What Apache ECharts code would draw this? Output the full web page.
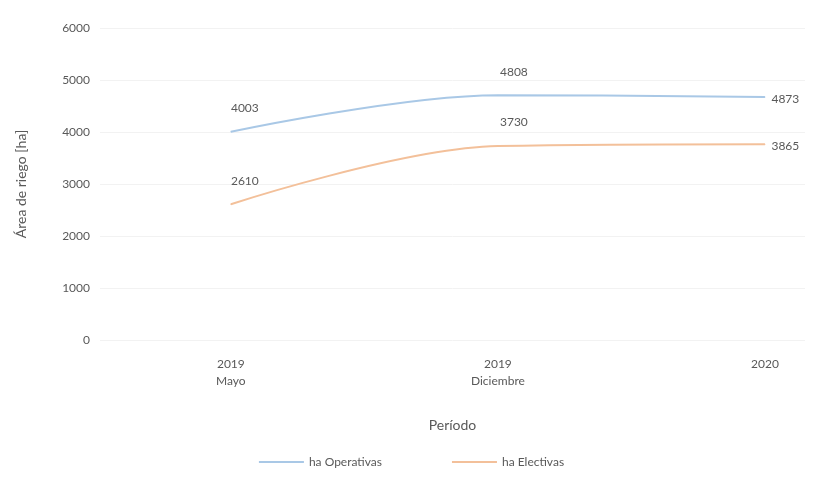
<!DOCTYPE html>
<html>
<head>
<meta charset="utf-8">
<script src="https://cdn.jsdelivr.net/npm/echarts@6/dist/echarts.min.js"></script>
<style>
  html, body { margin: 0; padding: 0; background: #fff; }
  #chart { width: 823px; height: 477px; }
</style>
</head>
<body>
<div id="chart"></div>
<script>
// periodos (eje x) y superficies en ha
const periodos = ['2019\nMayo', '2019\nDiciembre', '2020']
const haOperativas = [4003, 4708, 4673]
const haElectivas = [2610, 3730, 3765]
const etiquetaOperativas = ['4003', '4808', '4873']
const etiquetaElectivas = ['2610', '3730', '3865']
const yTicks = [0, 1000, 2000, 3000, 4000, 5000, 6000]

const chart = echarts.init(document.getElementById('chart'))

const font = 'Lato, "Open Sans", sans-serif'
const gris = '#595959'

// posicion de la etiqueta: arriba, salvo el ultimo punto a la derecha
const pos = i => (i === periodos.length - 1 ? 'right' : 'top')

const makeSeries = (name, values, labels, color) => ({
  name: name,
  type: 'line',
  smooth: 0.35,
  symbol: 'circle',
  symbolSize: 1,
  showSymbol: true,
  lineStyle: { width: 2, color: color },
  itemStyle: { color: color },
  data: values.map((v, i) => ({
    value: [i, v],
    label: {
      show: true,
      position: pos(i),
      distance: i === periodos.length - 1 ? 6 : 17,
      offset: i === 0 ? [14, 0] : (i === 1 ? [16, 0] : [0, 2]),
      formatter: labels[i],
      color: gris,
      fontSize: 12,
      fontFamily: font
    }
  }))
})

const option = {
  animation: false,
  grid: { left: 100, right: 18, top: 28, bottom: 137 },
  legend: {
    bottom: 4,
    left: 'center',
    itemGap: 70,
    itemWidth: 45,
    itemHeight: 2,
    icon: 'rect',
    textStyle: { color: gris, fontSize: 12, fontFamily: font },
    data: ['ha Operativas', 'ha Electivas']
  },
  xAxis: {
    type: 'value',
    min: -0.49,
    max: 2.15,
    name: 'Período',
    nameLocation: 'middle',
    nameGap: 78,
    nameTextStyle: { color: gris, fontSize: 14, fontFamily: font },
    axisLine: { show: false },
    axisTick: { show: false },
    splitLine: { show: false },
    axisLabel: {
      customValues: [0, 1, 2],
      formatter: v => periodos[Math.round(v)],
      color: gris,
      fontSize: 12,
      lineHeight: 17,
      margin: 16,
      fontFamily: font
    }
  },
  yAxis: {
    type: 'value',
    min: 0,
    max: 6000,
    interval: 1000,
    name: 'Área de riego [ha]',
    nameLocation: 'middle',
    nameGap: 72,
    nameTextStyle: { color: gris, fontSize: 14, fontFamily: font },
    axisLine: { show: false },
    axisTick: { show: false },
    splitLine: { lineStyle: { color: '#f2f2f2', width: 1 } },
    axisLabel: {
      formatter: v => (yTicks.indexOf(v) >= 0 ? String(v) : ''),
      color: gris,
      fontSize: 12,
      margin: 10,
      fontFamily: font
    }
  },
  series: [
    makeSeries('ha Operativas', haOperativas, etiquetaOperativas, '#a9c8e6'),
    makeSeries('ha Electivas', haElectivas, etiquetaElectivas, '#f3c09a')
  ]
}

chart.setOption(option)
</script>
</body>
</html>
